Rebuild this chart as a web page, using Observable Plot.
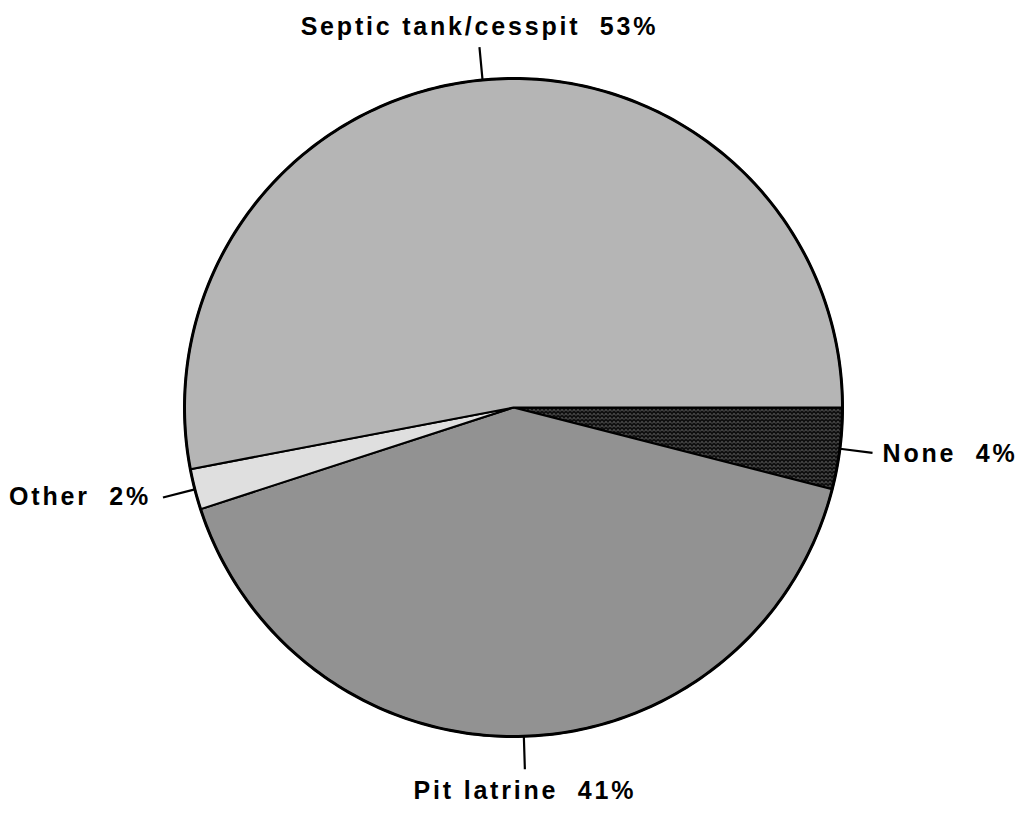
<!DOCTYPE html>
<html>
<head>
<meta charset="utf-8">
<script src="https://cdn.jsdelivr.net/npm/d3@7"></script>
<script src="https://cdn.jsdelivr.net/npm/@observablehq/plot@0.6"></script>
<style>
  html, body { margin: 0; padding: 0; background: #fff; }
  #chart svg { display: block; background: #fff; }
  #chart svg text { letter-spacing: 2.8px; white-space: pre; }
</style>
</head>
<body>
<svg width="0" height="0" style="position:absolute">
  <defs>
    <pattern id="pat-septic" patternUnits="userSpaceOnUse" width="2" height="2">
      <rect width="2" height="2" fill="#fff"/>
      <rect x="0" y="0" width="1" height="1" fill="#6a6a6a"/>
      <rect x="1" y="1" width="1" height="1" fill="#6a6a6a"/>
    </pattern>
    <pattern id="pat-pit" patternUnits="userSpaceOnUse" width="2" height="2">
      <rect width="2" height="2" fill="#f4f4f4"/>
      <rect x="0" y="0" width="1" height="1" fill="#303030"/>
      <rect x="1" y="1" width="1" height="1" fill="#303030"/>
    </pattern>
    <pattern id="pat-other" patternUnits="userSpaceOnUse" width="2" height="2">
      <rect width="2" height="2" fill="#fff"/>
      <rect x="0" y="0" width="1" height="1" fill="#808080"/>
    </pattern>
    <pattern id="pat-none" patternUnits="userSpaceOnUse" width="4" height="4">
      <rect width="4" height="4" fill="#101010"/>
      <rect x="1" y="1" width="1" height="1" fill="#d0d0d0"/>
      <rect x="3" y="2" width="1" height="1" fill="#909090"/>
    </pattern>
  </defs>
</svg>
<div id="chart"></div>
<script>
// Slices listed clockwise starting at 3 o'clock
const categories = ["None", "Pit latrine", "Other", "Septic tank/cesspit"];
const shares = [4, 41, 2, 53];
const fills = ["url(#pat-none)", "url(#pat-pit)", "url(#pat-other)", "url(#pat-septic)"];

// Build slice geometry from the shares (unit circle, clockwise, y downward)
const total = d3.sum(shares);
let cum = 0;
const slices = categories.map((cat, i) => {
  const a0 = cum / total * 2 * Math.PI;
  cum += shares[i];
  const a1 = cum / total * 2 * Math.PI;
  return {cat, value: shares[i], a0, a1, mid: (a0 + a1) / 2};
});

const points = [];
const rim = [];
for (const s of slices) {
  points.push({cat: s.cat, x: 0, y: 0});
  const n = Math.max(2, Math.ceil((s.a1 - s.a0) / (Math.PI / 180)));
  for (let k = 0; k <= n; k++) {
    const a = s.a0 + (s.a1 - s.a0) * k / n;
    points.push({cat: s.cat, x: Math.cos(a), y: Math.sin(a)});
    rim.push({x: Math.cos(a), y: Math.sin(a)});
  }
}

const rIn = 1.0, rOut = 1.1;
const labels = slices.map(s => ({
  cat: s.cat,
  text: `${s.cat}  ${s.value}%`,
  x1: rIn * Math.cos(s.mid), y1: rIn * Math.sin(s.mid),
  x2: rOut * Math.cos(s.mid), y2: rOut * Math.sin(s.mid),
  c: Math.cos(s.mid), s: Math.sin(s.mid)
}));

const textMarks = labels.map(l => {
  let opts;
  if (Math.abs(l.c) < 0.5) {
    opts = l.s < 0
      ? {textAnchor: "middle", lineAnchor: "bottom", dy: -12}
      : {textAnchor: "middle", lineAnchor: "top", dy: 12};
  } else if (l.c > 0) {
    opts = {textAnchor: "start", lineAnchor: "middle", dx: 10, dy: 1};
  } else {
    opts = {textAnchor: "end", lineAnchor: "middle", dx: -12, dy: -1};
  }
  return Plot.text([l], {
    x: "x2", y: "y2", text: "text",
    fontSize: 25, fontWeight: "bold",
    fontFamily: "'Liberation Sans', Arial, Helvetica, sans-serif",
    fill: "#000",
    ...opts
  });
});

const cx = 513, cy = 407, R = 329;
const chart = Plot.plot({
  width: 1022,
  height: 813,
  margin: 0,
  x: {domain: [-1, 1], range: [cx - R, cx + R], axis: null},
  y: {domain: [-1, 1], range: [cy - R, cy + R], axis: null},
  color: {type: "ordinal", domain: categories, range: fills},
  marks: [
    Plot.line(points, {
      x: "x", y: "y", z: "cat", fill: "cat",
      stroke: "#000", strokeWidth: 2, strokeLinejoin: "round",
      curve: "linear-closed"
    }),
    Plot.line(rim, {x: "x", y: "y", stroke: "#000", strokeWidth: 3, curve: "linear-closed"}),
    Plot.link(labels, {x1: "x1", y1: "y1", x2: "x2", y2: "y2", stroke: "#000", strokeWidth: 2.2}),
    ...textMarks
  ]
});
document.getElementById("chart").appendChild(chart);
</script>
</body>
</html>
